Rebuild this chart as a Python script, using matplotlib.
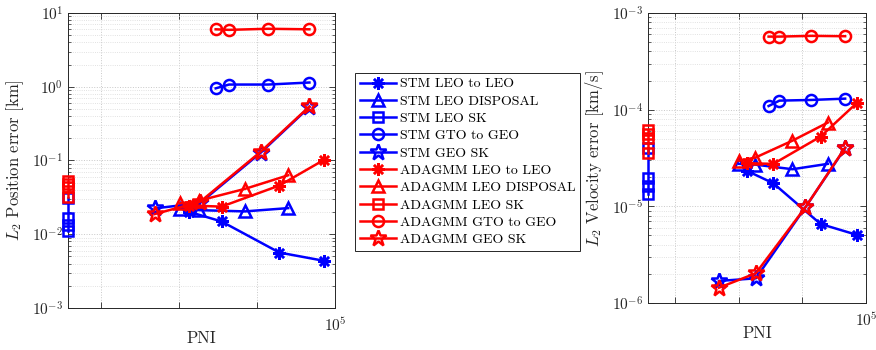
import matplotlib
matplotlib.use('Agg')
import matplotlib.pyplot as plt
import numpy as np
from matplotlib.ticker import FixedLocator, FixedFormatter, LogLocator, NullLocator, NullFormatter

plt.rcParams['font.family'] = 'serif'
plt.rcParams['font.serif'] = ['cmr10', 'DejaVu Serif']
plt.rcParams['mathtext.fontset'] = 'cm'
plt.rcParams['axes.unicode_minus'] = False
plt.rcParams['axes.formatter.use_mathtext'] = True

# PNI for each case
pni_leo2leo = [1330, 3510, 19300, 72400]
pni_disposal = [1020, 1820, 7000, 25100]
pni_sk = [37.6, 37.6, 37.6, 37.6]
pni_gto = [2950, 4370, 13800, 47000]
pni_geosk = [490, 1860, 11200, 47000]

# position error [km]
pos_stm_leo2leo = [0.0202, 0.0149, 0.00565, 0.00436]
pos_stm_disposal = [0.0222, 0.0212, 0.0204, 0.0226]
pos_stm_sk = [0.031, 0.0168, 0.0135, 0.0112]
pos_stm_gto = [0.95, 1.07, 1.07, 1.14]
pos_stm_geosk = [0.0224, 0.0265, 0.128, 0.53]
pos_ada_leo2leo = [0.0245, 0.0237, 0.0457, 0.102]
pos_ada_disposal = [0.0262, 0.0286, 0.0412, 0.063]
pos_ada_sk = [0.053, 0.048, 0.044, 0.032]
pos_ada_gto = [6.0, 5.9, 6.1, 6.0]
pos_ada_geosk = [0.0188, 0.0275, 0.132, 0.54]

# velocity error [km/s]
vel_stm_leo2leo = [2.34e-5, 1.73e-5, 6.57e-6, 5.06e-6]
vel_stm_disposal = [2.75e-5, 2.7e-5, 2.42e-5, 2.75e-5]
vel_stm_sk = [4.0e-5, 1.97e-5, 1.63e-5, 1.34e-5]
vel_stm_gto = [1.09e-4, 1.24e-4, 1.26e-4, 1.30e-4]
vel_stm_geosk = [1.69e-6, 1.80e-6, 9.8e-6, 4.0e-5]
vel_ada_leo2leo = [2.79e-5, 2.75e-5, 5.26e-5, 1.18e-4]
vel_ada_disposal = [2.97e-5, 3.19e-5, 4.78e-5, 7.35e-5]
vel_ada_sk = [6.17e-5, 5.6e-5, 5.1e-5, 3.56e-5]
vel_ada_gto = [5.7e-4, 5.7e-4, 5.8e-4, 5.75e-4]
vel_ada_geosk = [1.44e-6, 2.03e-6, 9.8e-6, 4.05e-5]

labels = ['STM LEO to LEO', 'STM LEO DISPOSAL', 'STM LEO SK', 'STM GTO to GEO', 'STM GEO SK',
          'ADAGMM LEO to LEO', 'ADAGMM LEO DISPOSAL', 'ADAGMM LEO SK', 'ADAGMM GTO to GEO',
          'ADAGMM GEO SK']

xs = [pni_leo2leo, pni_disposal, pni_sk, pni_gto, pni_geosk] * 2
pos = [pos_stm_leo2leo, pos_stm_disposal, pos_stm_sk, pos_stm_gto, pos_stm_geosk,
       pos_ada_leo2leo, pos_ada_disposal, pos_ada_sk, pos_ada_gto, pos_ada_geosk]
vel = [vel_stm_leo2leo, vel_stm_disposal, vel_stm_sk, vel_stm_gto, vel_stm_geosk,
       vel_ada_leo2leo, vel_ada_disposal, vel_ada_sk, vel_ada_gto, vel_ada_geosk]

markers = [(8, 2, 0), '^', 's', 'o', '*'] * 2
msizes = [9, 9, 7, 8, 12] * 2
colors = ['#0000ff'] * 5 + ['#ff0000'] * 5

fig = plt.figure(figsize=(8.76, 3.5), dpi=100)
ax1 = fig.add_axes([0.0776, 0.12, 0.3048, 0.843])
ax2 = fig.add_axes([0.7397, 0.1343, 0.2489, 0.8286])

def style(ax, ylim, ylabel):
    ax.set_xscale('log')
    ax.set_yscale('log')
    ax.set_xlim(37.6, 1e5)
    ax.set_ylim(*ylim)
    ax.xaxis.set_major_locator(FixedLocator([1e2, 1e3, 1e4, 1e5]))
    ax.xaxis.set_major_formatter(FixedFormatter(['', '', '', '$10^{5}$']))
    ax.xaxis.set_minor_locator(NullLocator())
    ax.yaxis.set_major_locator(LogLocator(base=10, numticks=20))
    ax.yaxis.set_minor_locator(LogLocator(base=10, subs=np.arange(2, 10), numticks=20))
    ax.yaxis.set_minor_formatter(NullFormatter())
    ax.grid(True, which='major', linestyle=':', color='#c8c8c8', linewidth=0.7)
    ax.grid(True, which='minor', axis='y', linestyle=':', color='#d8d8d8', linewidth=0.6)
    ax.set_axisbelow(True)
    ax.tick_params(which='both', direction='in', top=True, right=True, labelsize=11,
                   color='#262626', labelcolor='#262626')
    ax.tick_params(axis='x', pad=6)
    ax.tick_params(which='major', length=4, width=0.6)
    ax.tick_params(which='minor', length=2.5, width=0.5)
    for s in ax.spines.values():
        s.set_color('#262626')
        s.set_linewidth(0.7)
    ax.set_xlabel('PNI', fontsize=12, color='#262626', labelpad=-2.5)
    ax.set_ylabel(ylabel, fontsize=12, color='#262626')

handles = []
for i in range(10):
    ax1.plot(xs[i], pos[i], color=colors[i], marker=markers[i], ms=msizes[i], mfc='none',
             mew=1.8, lw=1.8, clip_on=False, zorder=3)
    h, = ax2.plot(xs[i], vel[i], color=colors[i], marker=markers[i], ms=msizes[i], mfc='none',
                  mew=1.8, lw=1.8, clip_on=False, zorder=3, label=labels[i])
    handles.append(h)

style(ax1, (1e-3, 1e1), '$L_2$ Position error [km]')
style(ax2, (1e-6, 1e-3), '$L_2$ Velocity error [km/s]')

leg = fig.legend(handles=handles, loc='upper left', bbox_to_anchor=(0.405, 0.792),
                 fontsize=10, frameon=True, fancybox=False, framealpha=1,
                 edgecolor='#262626', handlelength=2.6, handletextpad=0.3,
                 borderpad=0.35, labelspacing=0.33, borderaxespad=0)
leg.get_frame().set_linewidth(0.7)

fig.savefig('out.png', dpi=100)
